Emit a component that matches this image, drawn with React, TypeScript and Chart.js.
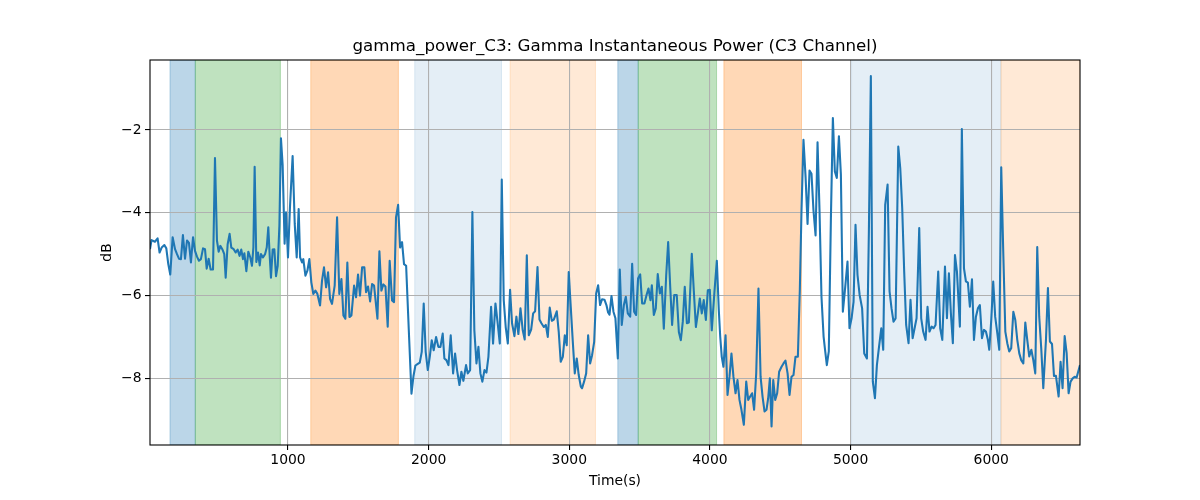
import React, { useEffect, useRef } from 'react'
import Chart from 'chart.js/auto'

// sample times (s) and gamma power (dB)
const times = [
    19, 30, 54, 73, 87, 102, 121, 135, 149, 163,
    180, 197, 211, 225, 239, 253, 268, 282, 296, 310,
    325, 339, 353, 367, 381, 396, 410, 422, 436, 450,
    467, 481, 495, 507, 519, 533, 547, 557, 571, 585,
    597, 614, 628, 642, 656, 668, 680, 690, 704, 718,
    732, 744, 754, 763, 775, 787, 799, 808, 822, 837,
    849, 860, 870, 879, 891, 903, 915, 927, 939, 950,
    962, 976, 986, 1000, 1014, 1033, 1048, 1062, 1076, 1086,
    1100, 1109, 1124, 1138, 1152, 1166, 1180, 1195, 1209, 1228,
    1242, 1256, 1271, 1285, 1299, 1313, 1332, 1349, 1365, 1380,
    1394, 1408, 1422, 1437, 1451, 1470, 1484, 1498, 1512, 1527,
    1543, 1555, 1569, 1584, 1598, 1612, 1636, 1650, 1664, 1678,
    1693, 1709, 1723, 1740, 1754, 1768, 1783, 1797, 1811, 1825,
    1840, 1859, 1878, 1892, 1906, 1923, 1937, 1951, 1965, 1979,
    1994, 2008, 2022, 2036, 2053, 2069, 2084, 2100, 2112, 2126,
    2141, 2157, 2174, 2188, 2202, 2219, 2233, 2247, 2266, 2278,
    2295, 2311, 2325, 2340, 2354, 2368, 2382, 2397, 2411, 2425,
    2444, 2458, 2475, 2491, 2506, 2520, 2534, 2548, 2563, 2579,
    2593, 2610, 2624, 2638, 2653, 2669, 2683, 2698, 2712, 2729,
    2743, 2757, 2774, 2788, 2802, 2819, 2833, 2847, 2861, 2876,
    2890, 2911, 2925, 2939, 2954, 2968, 2982, 2996, 3011, 3025,
    3039, 3053, 3067, 3082, 3091, 3105, 3120, 3134, 3148, 3162,
    3177, 3191, 3205, 3219, 3233, 3250, 3264, 3276, 3286, 3300,
    3314, 3328, 3345, 3359, 3373, 3388, 3402, 3416, 3433, 3447,
    3461, 3475, 3489, 3504, 3518, 3534, 3549, 3563, 3577, 3587,
    3601, 3615, 3629, 3644, 3658, 3672, 3689, 3703, 3717, 3731,
    3746, 3764, 3779, 3793, 3807, 3821, 3836, 3850, 3871, 3885,
    3900, 3914, 3928, 3942, 3956, 3971, 3985, 3999, 4013, 4032,
    4049, 4063, 4073, 4084, 4096, 4111, 4125, 4139, 4153, 4167,
    4182, 4196, 4210, 4224, 4241, 4258, 4272, 4286, 4300, 4314,
    4329, 4345, 4360, 4374, 4388, 4402, 4414, 4426, 4438, 4450,
    4464, 4478, 4492, 4509, 4523, 4537, 4552, 4566, 4580, 4594,
    4608, 4625, 4639, 4651, 4665, 4680, 4694, 4708, 4722, 4736,
    4751, 4765, 4779, 4793, 4808, 4817, 4831, 4845, 4860, 4874,
    4888, 4902, 4917, 4931, 4945, 4959, 4978, 4992, 5007, 5021,
    5035, 5049, 5064, 5082, 5097, 5116, 5130, 5144, 5158, 5173,
    5187, 5201, 5218, 5232, 5246, 5263, 5277, 5291, 5305, 5320,
    5339, 5353, 5367, 5381, 5395, 5412, 5426, 5441, 5455, 5469,
    5488, 5502, 5516, 5533, 5547, 5561, 5576, 5590, 5604, 5623,
    5637, 5652, 5671, 5685, 5699, 5713, 5727, 5742, 5756, 5777,
    5791, 5806, 5820, 5834, 5848, 5863, 5877, 5891, 5905, 5919,
    5934, 5948, 5962, 5976, 5986, 6000, 6014, 6028, 6043, 6057,
    6071, 6085, 6100, 6114, 6128, 6142, 6157, 6171, 6185, 6199,
    6213, 6228, 6242, 6256, 6270, 6285, 6299, 6313, 6327, 6341,
    6356, 6370, 6389, 6403, 6417, 6432, 6446, 6460, 6479, 6493,
    6507, 6522, 6536, 6550, 6564, 6579, 6593, 6607, 6631
]

const power = [
    -4.88, -4.66, -4.70, -4.62, -4.96, -4.84, -4.78, -4.86, -5.24, -5.49,
    -4.59, -4.88, -5.00, -5.11, -5.12, -4.54, -5.11, -4.67, -4.73, -5.20,
    -4.59, -4.92, -5.06, -5.16, -5.12, -4.86, -4.88, -5.35, -5.11, -5.37,
    -5.37, -2.68, -4.67, -4.94, -4.80, -4.88, -5.00, -5.57, -4.76, -4.51,
    -4.84, -4.88, -4.96, -4.89, -5.04, -4.89, -5.12, -4.98, -5.41, -4.94,
    -5.08, -5.28, -4.84, -2.89, -5.19, -4.96, -5.27, -5.00, -5.08, -5.00,
    -4.84, -4.35, -5.04, -5.57, -4.89, -4.88, -5.53, -5.28, -4.31, -2.20,
    -2.85, -4.75, -3.99, -5.08, -3.87, -2.63, -4.27, -5.08, -3.91, -5.08,
    -5.20, -5.12, -5.52, -5.40, -5.12, -5.68, -5.96, -5.88, -5.96, -6.24,
    -5.64, -5.32, -5.80, -5.44, -6.08, -6.20, -5.76, -4.11, -5.96, -5.60,
    -6.48, -6.56, -5.20, -6.52, -6.48, -5.76, -6.04, -5.49, -6.00, -5.32,
    -5.32, -5.92, -5.78, -6.14, -5.72, -5.76, -6.56, -4.93, -5.88, -5.73,
    -5.78, -6.75, -5.16, -6.12, -6.16, -4.11, -3.81, -4.84, -4.71, -5.24,
    -5.28, -6.84, -8.37, -7.95, -7.69, -7.65, -7.62, -7.36, -6.19, -7.36,
    -7.80, -7.48, -7.08, -7.32, -7.00, -7.24, -7.24, -6.92, -7.52, -7.56,
    -7.68, -6.96, -7.88, -7.40, -7.80, -8.16, -7.84, -8.06, -7.68, -7.88,
    -7.80, -3.98, -6.84, -7.64, -7.24, -7.88, -8.08, -7.80, -7.86, -7.48,
    -6.27, -7.16, -6.19, -6.67, -7.16, -3.20, -6.11, -6.76, -7.16, -5.86,
    -6.67, -6.98, -6.51, -6.93, -6.31, -6.84, -7.06, -5.03, -6.96, -6.82,
    -6.43, -6.38, -5.31, -6.58, -6.67, -6.76, -6.71, -7.00, -6.29, -6.61,
    -6.58, -6.38, -6.88, -7.60, -7.48, -6.96, -7.20, -5.43, -6.31, -7.12,
    -7.88, -7.52, -7.92, -8.20, -8.24, -8.08, -7.88, -6.96, -7.64, -7.44,
    -7.12, -5.95, -5.75, -6.23, -6.09, -6.10, -6.23, -6.41, -6.46, -6.01,
    -6.39, -6.55, -7.52, -5.37, -6.71, -6.23, -6.03, -6.43, -6.51, -5.23,
    -6.39, -6.47, -5.59, -5.49, -6.19, -6.19, -5.99, -5.83, -6.11, -5.75,
    -6.47, -6.31, -5.48, -5.95, -5.79, -6.80, -5.51, -4.71, -5.75, -6.71,
    -5.99, -5.99, -6.88, -7.08, -6.63, -5.79, -6.67, -6.65, -4.99, -5.87,
    -6.76, -6.43, -6.07, -6.43, -6.11, -6.59, -5.87, -5.86, -6.84, -5.91,
    -5.16, -6.35, -6.99, -7.48, -7.72, -6.96, -8.40, -7.96, -7.40, -7.96,
    -8.36, -8.04, -8.52, -8.76, -9.12, -8.08, -8.52, -8.44, -8.36, -8.76,
    -7.88, -5.83, -7.96, -8.44, -8.80, -8.76, -8.48, -8.00, -9.16, -8.04,
    -8.52, -8.36, -7.84, -7.72, -7.64, -7.57, -7.88, -8.40, -7.96, -7.92,
    -7.48, -7.48, -5.87, -3.94, -2.24, -3.14, -4.27, -2.98, -3.06, -3.94,
    -4.55, -2.30, -3.94, -6.03, -6.99, -7.27, -7.68, -7.35, -4.13, -1.71,
    -3.00, -3.16, -2.15, -3.08, -6.39, -5.90, -5.18, -6.79, -6.55, -6.15,
    -4.29, -5.50, -5.98, -6.31, -7.40, -7.52, -4.45, -0.70, -8.08, -8.48,
    -7.68, -7.27, -6.79, -7.31, -3.81, -3.32, -5.90, -6.31, -6.63, -6.55,
    -2.40, -2.92, -3.89, -5.42, -6.71, -7.15, -6.10, -7.03, -6.79, -6.55,
    -4.37, -6.55, -6.87, -7.07, -6.27, -6.87, -6.75, -6.79, -6.71, -5.42,
    -6.79, -7.07, -5.30, -6.55, -5.46, -6.43, -7.15, -5.02, -5.42, -6.75,
    -1.98, -5.34, -5.66, -5.69, -6.27, -5.61, -7.07, -6.51, -6.31, -6.23,
    -7.03, -6.83, -6.87, -7.07, -7.31, -6.59, -5.66, -6.51, -6.91, -7.31,
    -2.90, -4.90, -6.87, -7.15, -7.35, -7.27, -6.39, -6.59, -7.07, -7.39,
    -7.56, -7.64, -6.65, -7.07, -7.47, -7.31, -7.56, -7.88, -4.83, -6.51,
    -7.31, -8.24, -7.07, -5.82, -7.11, -7.17, -7.94, -7.94, -8.44, -7.60,
    -8.24, -6.98, -7.39, -8.36, -8.08, -8.00, -7.96, -7.98, -7.68
]

// shaded phases (start/end in s) and their kind
const spanStarts = [161, 341, 1162, 1901, 2579, 3345, 3490, 4099, 5007, 6069]
const spanEnds = [341, 946, 1785, 2518, 3186, 3490, 4047, 4651, 6069, 6631]
const spanKinds = ['blue', 'green', 'orange', 'paleBlue', 'paleOrange', 'blue', 'green', 'orange', 'paleBlue', 'paleOrange']

const xTicks = [1000, 2000, 3000, 4000, 5000, 6000]
const yTicks = [-8, -6, -4, -2]

const spanColors: Record<string, string> = {
    blue: 'rgba(31, 119, 180, 0.3)',
    green: 'rgba(44, 160, 44, 0.3)',
    orange: 'rgba(255, 127, 14, 0.3)',
    paleBlue: 'rgba(31, 119, 180, 0.12)',
    paleOrange: 'rgba(255, 127, 14, 0.17)'
}

const FONT = 'DejaVu Sans'
const TITLE = 'gamma_power_C3: Gamma Instantaneous Power (C3 Channel)'

const spanPlugin = {
    id: 'spans',
    beforeDraw(chart: any) {
        const { ctx, chartArea, scales } = chart
        ctx.save()
        ctx.beginPath()
        ctx.rect(chartArea.left, chartArea.top, chartArea.width, chartArea.height)
        ctx.clip()
        spanStarts.forEach((s, i) => {
            const x0 = scales.x.getPixelForValue(s)
            const x1 = scales.x.getPixelForValue(spanEnds[i])
            const c = spanColors[spanKinds[i]]
            ctx.fillStyle = c
            ctx.fillRect(x0, chartArea.top, x1 - x0, chartArea.height)
            ctx.strokeStyle = c
            ctx.lineWidth = 1
            ctx.strokeRect(x0, chartArea.top, x1 - x0, chartArea.height)
        })
        ctx.restore()
    }
}

const framePlugin = {
    id: 'frame',
    afterDatasetsDraw(chart: any) {
        const { ctx, chartArea } = chart
        ctx.save()
        ctx.strokeStyle = '#000'
        ctx.lineWidth = 1.1
        ctx.strokeRect(chartArea.left, chartArea.top, chartArea.width, chartArea.height)
        // title centred over the plot area like matplotlib
        ctx.fillStyle = '#000'
        ctx.font = `16.7px "${FONT}"`
        ctx.textAlign = 'center'
        ctx.textBaseline = 'middle'
        ctx.fillText(TITLE, (chartArea.left + chartArea.right) / 2, 47)
        ctx.restore()
    }
}

const fmt = (v: number) => String(v).replace('-', '\u2212')

const App: React.FC = () => {
    const chartRef = useRef<HTMLCanvasElement>(null)
    const chartInstance = useRef<Chart | null>(null)

    useEffect(() => {
        document.body.style.margin = '0'
        if (!chartRef.current) return
        const ctx = chartRef.current.getContext('2d')
        if (!ctx) return
        if (chartInstance.current) chartInstance.current.destroy()

        const points = times.map((t, i) => ({ x: t, y: power[i] }))
        const tickFont = { family: FONT, size: 13.9 }

        chartInstance.current = new Chart(ctx, {
            type: 'line',
            data: {
                datasets: [{
                    label: 'gamma_power_C3',
                    data: points,
                    borderColor: '#1f77b4',
                    borderWidth: 2.08,
                    pointRadius: 0,
                    tension: 0,
                    fill: false,
                    borderJoinStyle: 'round'
                }]
            },
            options: {
                responsive: false,
                animation: false,
                devicePixelRatio: 1,
                layout: { padding: { top: 60, right: 120, bottom: 0, left: 0 } },
                plugins: {
                    legend: { display: false },
                    tooltip: { enabled: false },
                    title: { display: false }
                },
                scales: {
                    x: {
                        type: 'linear',
                        min: 19,
                        max: 6631,
                        afterBuildTicks: (s: any) => { s.ticks = xTicks.map(v => ({ value: v })) },
                        afterFit: (s: any) => { s.height = 55 },
                        border: { display: false },
                        grid: { color: '#b0b0b0', lineWidth: 1.1, tickColor: '#000', tickLength: 5, tickWidth: 1.1 },
                        ticks: { font: tickFont, color: '#000', padding: 2, maxRotation: 0, autoSkip: false, callback: (v: any) => fmt(v) },
                        title: { display: true, text: 'Time(s)', font: tickFont, color: '#000', padding: { top: 0, bottom: 10.7 } }
                    },
                    y: {
                        type: 'linear',
                        min: -9.61,
                        max: -0.31,
                        afterBuildTicks: (s: any) => { s.ticks = yTicks.map(v => ({ value: v })) },
                        afterFit: (s: any) => { s.width = 150 },
                        border: { display: false },
                        grid: { color: '#b0b0b0', lineWidth: 1.1, tickColor: '#000', tickLength: 5, tickWidth: 1.1 },
                        ticks: { font: tickFont, color: '#000', padding: 3.5, autoSkip: false, callback: (v: any) => fmt(v) },
                        title: { display: true, text: 'dB', font: tickFont, color: '#000', padding: { top: 99, bottom: 0 } }
                    }
                }
            },
            plugins: [spanPlugin, framePlugin]
        } as any)

        return () => {
            if (chartInstance.current) {
                chartInstance.current.destroy()
                chartInstance.current = null
            }
        }
    }, [])

    return (
        <div style={{ width: 1200, height: 500, background: '#fff' }}>
            <canvas ref={chartRef} width={1200} height={500} style={{ display: 'block' }}></canvas>
        </div>
    )
}

export default App
